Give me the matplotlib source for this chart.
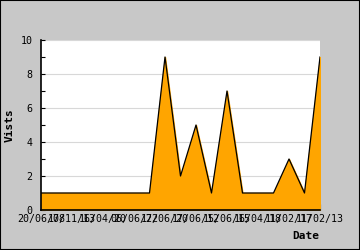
import matplotlib
matplotlib.use("Agg")
import matplotlib.pyplot as plt
from matplotlib.patches import Rectangle

# visits per period
visits = [1, 1, 1, 1, 1, 1, 1, 1, 9, 2, 5, 1, 7, 1, 1, 1, 3, 1, 9]
tick_labels = ["20/06/08", "17/11/13", "16/04/20", "06/06/22", "17/06/20",
               "17/06/12", "15/06/15", "16/04/18", "11/02/17", "11/02/13"]

plt.rcParams["font.family"] = "DejaVu Sans Mono"

fig = plt.figure(figsize=(3.6, 2.5), dpi=100, facecolor="#c8c8c8")
fig.patches.append(Rectangle((0, 0), 1, 1, transform=fig.transFigure,
                             fill=False, edgecolor="black", linewidth=1.5))
ax = fig.add_axes([41 / 360, 40 / 250, 279 / 360, 170 / 250])

x = list(range(len(visits)))
ax.fill_between(x, visits, 0, color="#ffa500", zorder=2)
ax.plot(x, visits, color="black", linewidth=0.9, zorder=3)

ax.set_xlim(0, len(visits) - 1)
ax.set_ylim(0, 10)
ax.set_xticks(x[::2])
ax.set_xticklabels(tick_labels, fontsize=7.2)
ax.set_yticks(range(0, 11, 2))
ax.set_yticks(range(1, 10, 2), minor=True)
ax.tick_params(axis="y", which="both", direction="in", length=3, width=0.8,
               labelsize=7.2, pad=6)
ax.tick_params(axis="x", direction="in", length=4, width=0.8, pad=3)
ax.yaxis.grid(True, color="#d8d8d8", linewidth=0.8, zorder=0)
ax.set_axisbelow(True)

for side in ["top", "right"]:
    ax.spines[side].set_visible(False)
for side in ["left", "bottom"]:
    ax.spines[side].set_linewidth(1.2)
    ax.spines[side].set_zorder(4)

fig.text(10 / 360, 1 - 125 / 250, "Vists", rotation=90, fontsize=8,
         fontweight="bold", ha="center", va="center")
fig.text(319 / 360, 1 - 236 / 250, "Date", fontsize=8, fontweight="bold",
         ha="right", va="center")

fig.savefig("out.png", dpi=100, facecolor=fig.get_facecolor())
plt.close(fig)
